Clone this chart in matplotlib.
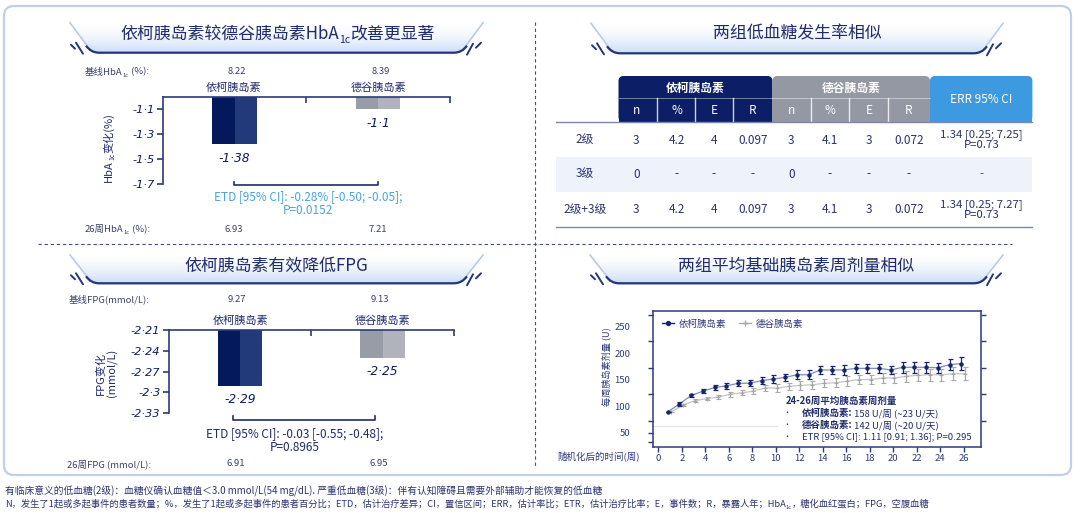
import numpy as np
import matplotlib
matplotlib.use("Agg")
import matplotlib.pyplot as plt
from matplotlib.patches import Rectangle, FancyBboxPatch, Polygon, PathPatch
from matplotlib.path import Path
from matplotlib.lines import Line2D
from matplotlib.transforms import ScaledTranslation

plt.rcParams['font.family'] = ['Noto Sans CJK SC', 'DejaVu Sans']

W, H = 1080, 513
NAVY = '#1f2b6b'
DARK = '#0a1d60'
GREY_TXT = '#3b4168'
ITALIC = dict(family='DejaVu Sans', style='oblique')

# ---------------- data ----------------
groups = ['依柯胰岛素', '德谷胰岛素']
hba1c_base = [8.22, 8.39]
hba1c_change = [-1.38, -1.1]
hba1c_26w = [6.93, 7.21]
hba1c_ticks = [-1.1, -1.3, -1.5, -1.7]

fpg_base = [9.27, 9.13]
fpg_change = [-2.29, -2.25]
fpg_26w = [6.91, 6.95]
fpg_ticks = [-2.21, -2.24, -2.27, -2.3, -2.33]

row_labels = ['2级', '3级', '2级+3级']
sub_cols = ['n', '%', 'E', 'R']
ekl_n = ['3', '0', '3']
ekl_pct = ['4.2', '-', '4.2']
ekl_E = ['4', '-', '4']
ekl_R = ['0.097', '-', '0.097']
deg_n = ['3', '0', '3']
deg_pct = ['4.1', '-', '4.1']
deg_E = ['3', '-', '3']
deg_R = ['0.072', '-', '0.072']
err_ci = ['1.34 [0.25; 7.25]\nP=0.73', '-', '1.34 [0.25; 7.27]\nP=0.73']

weeks = [1, 2, 3, 4, 5, 6, 7, 8, 9, 10, 11, 12, 13,
         14, 15, 16, 17, 18, 19, 20, 21, 22, 23, 24, 25, 26]
ekl_dose = [67, 82, 98, 106, 113, 116, 121, 121, 126, 129, 132, 137, 137,
            146, 146, 146, 149, 149, 149, 146, 151, 151, 151, 150, 156, 158]
ekl_err = [0, 3, 3, 4, 4, 5, 6, 6, 7, 7, 7, 8, 8,
           8, 8, 9, 9, 9, 9, 8, 10, 10, 10, 10, 11, 12]
deg_dose = [67, 80, 88, 92, 95, 100, 103, 106, 112, 112, 115, 117, 118,
            121, 122, 125, 128, 128, 131, 131, 134, 136, 137, 137, 139, 139]
deg_err = [0, 2, 3, 3, 4, 5, 5, 6, 6, 7, 7, 8, 8,
           8, 8, 9, 9, 9, 10, 10, 10, 11, 11, 11, 12, 12]
dose_ticks = [50, 100, 150, 200, 250]
week_ticks = list(range(0, 27, 2))

footnote1 = ('有临床意义的低血糖(2级)：血糖仪确认血糖值＜3.0 mmol/L(54 mg/dL). '
             '严重低血糖(3级)：伴有认知障碍且需要外部辅助才能恢复的低血糖')
footnote2_pre = ('N，发生了1起或多起事件的患者数量；%，发生了1起或多起事件的患者百分比；'
                 'ETD，估计治疗差异；CI，置信区间；ERR，估计率比；ETR，估计治疗比率；'
                 'E，事件数；R，暴露人年；HbA')
footnote2_post = '，糖化血红蛋白；FPG，空腹血糖'


def fig_rect(l, t, r, b):
    return [l / W, 1 - b / H, (r - l) / W, (b - t) / H]


fig = plt.figure(figsize=(W / 100, H / 100), dpi=100)
ov = fig.add_axes([0, 0, 1, 1])
ov.set_xlim(0, W)
ov.set_ylim(H, 0)
ov.set_autoscale_on(False)
ov.axis('off')


def sub_chain(x, y, pre, sub, post, fs, color, weight='normal', ha='left'):
    # text with a subscript in the middle (e.g. HbA1c)
    t1 = ov.text(x, y, pre, fontsize=fs, color=color, ha=ha, va='center', weight=weight)
    t2 = ov.annotate(sub, xy=(1, 0.12), xycoords=t1, ha='left', va='center',
                     fontsize=fs * 0.62, color=color, weight=weight)
    t3 = ov.annotate(post, xy=(1, 0.5), xycoords=(t2, t1), ha='left', va='center',
                     fontsize=fs, color=color, weight=weight)
    return t3


# panel frame
ov.add_patch(FancyBboxPatch((4, 6), 1067, 469, boxstyle='round,pad=0,rounding_size=10',
                            facecolor='white', edgecolor='#bfd0e8', lw=1.6, zorder=0))
ov.plot([534.5, 534.5], [22, 466], ls=(0, (3, 2.5)), color='#3c4f8c', lw=0.8)
ov.plot([38, 1012], [244, 244], ls=(0, (3, 2.5)), color='#3c4f8c', lw=0.8)


def banner(x0, x1, yt, yb):
    pts = [(x0, yt), (x0 + 20, yb - 2), (x0 + 26, yb), (x1 - 26, yb), (x1 - 20, yb - 2), (x1, yt)]
    poly = Polygon(pts, closed=True, facecolor='none', edgecolor='none')
    ov.add_patch(poly)
    n = 64
    grad = np.zeros((n, 1, 4))
    t = np.linspace(0, 1, n) ** 1.6
    base = np.array([0.80, 0.87, 0.97])
    grad[:, 0, :3] = 1 - (1 - base) * t[:, None]
    grad[:, 0, 3] = 1
    im = ov.imshow(grad, extent=(x0, x1, yb, yt), aspect='auto', origin='upper', zorder=1)
    im.set_clip_path(poly)
    ov.plot([x0, x0 + 20], [yt, yb - 3], color='#b9cbe8', lw=1.2, zorder=2)
    ov.plot([x1, x1 - 20], [yt, yb - 3], color='#b9cbe8', lw=1.2, zorder=2)
    verts = [(x0 + 16, yb - 7), (x0 + 21, yb), (x0 + 29, yb), (x1 - 29, yb),
             (x1 - 21, yb), (x1 - 16, yb - 7)]
    codes = [Path.MOVETO, Path.CURVE3, Path.CURVE3, Path.LINETO, Path.CURVE3, Path.CURVE3]
    ov.add_patch(PathPatch(Path(verts, codes), facecolor='none', edgecolor='#22357c', lw=1.6, zorder=3))
    for (xa, ya, xb, yb2) in [(x0 + 1, yb - 8, x0 + 5, yb - 4), (x0 + 6, yb - 10, x0 + 13, yb + 1)]:
        ov.plot([xa, xb], [ya, yb2], color='#22357c', lw=1.4, solid_capstyle='round', zorder=3)
    for (xa, ya, xb, yb2) in [(x1 - 16, yb + 2, x1 - 10, yb - 9), (x1 - 7, yb - 5, x1 - 2, yb - 10)]:
        ov.plot([xa, xb], [ya, yb2], color='#22357c', lw=1.4, solid_capstyle='round', zorder=3)


banner(70, 483, 22.7, 52.7)
banner(591, 1003, 23.3, 53.3)
banner(70, 483, 255, 283.3)
banner(590, 1003, 255, 283.3)

TFS = 12.2
t1 = ov.text(120.5, 33.5, '依柯胰岛素较德谷胰岛素HbA', fontsize=TFS, color=NAVY, ha='left', va='center', zorder=4)
t2 = ov.annotate('1c', xy=(1, 0.12), xycoords=t1, ha='left', va='center', fontsize=TFS * 0.62,
                 color=NAVY, zorder=4)
ov.annotate('改善更显著', xy=(1, 0.5), xycoords=(t2, t1), ha='left', va='center', fontsize=TFS,
            color=NAVY, zorder=4)
ov.text(797, 33.5, '两组低血糖发生率相似', fontsize=TFS, color=NAVY, ha='center', va='center', zorder=4)
ov.text(276, 266, '依柯胰岛素有效降低FPG', fontsize=TFS, color=NAVY, ha='center', va='center', zorder=4)
ov.text(796.5, 266, '两组平均基础胰岛素周剂量相似', fontsize=TFS, color=NAVY, ha='center', va='center', zorder=4)


# ---------------- bar panels ----------------
def fmt_dot(v):
    return f'{v:g}'.replace('.', '·')


def bar_panel(L, T, R, B, values, ticks, ylim, dark, light):
    ax = fig.add_axes(fig_rect(L, T, R, B))
    ax.patch.set_alpha(0)
    top = ylim[1]
    x = np.arange(len(values))
    h = [v - top for v in values]
    bw = 0.31
    ax.bar(x, h, width=bw, bottom=top, color=dark, zorder=2)
    ax.bar(x + bw / 4, h, width=bw / 2, bottom=top, color=light, zorder=2)
    ax.set_xlim(-0.5, 1.5)
    ax.set_ylim(*ylim)
    for s in ['bottom', 'right']:
        ax.spines[s].set_visible(False)
    for s in ['top', 'left']:
        ax.spines[s].set_color('#2b3a7a')
        ax.spines[s].set_linewidth(1.2)
    ax.xaxis.tick_top()
    ax.set_xticks([0.5, 1.5])
    ax.set_xticklabels([])
    ax.tick_params(axis='x', direction='in', length=4, width=1.2, color='#2b3a7a')
    ax.set_yticks(ticks)
    ax.set_yticklabels([fmt_dot(t) for t in ticks], fontsize=8.2, color=DARK, **ITALIC)
    ax.tick_params(axis='y', direction='out', length=4, width=1.2, color='#2b3a7a', pad=2)
    for xi, v in zip(x, values):
        ax.annotate(fmt_dot(v), xy=(xi, v), xytext=(0, -14), textcoords='offset pixels',
                    ha='center', va='center', fontsize=8.8, color=DARK, **ITALIC)
    return ax


dark_cols = ['#04195c', '#979ca7']
light_cols = ['#22397a', '#b0b3bb']

bar_panel(162.7, 97.3, 450, 184, hba1c_change, hba1c_ticks, (-1.7, -1.006), dark_cols, light_cols)
bar_panel(168.7, 330, 453.9, 413.3, fpg_change, fpg_ticks, (-2.33, -2.21), dark_cols, light_cols)

# top-left texts
cx_tl = [233.8, 378]
sub_chain(85, 72, '基线HbA', '1c', ' (%):', 6.8, GREY_TXT)
sub_chain(85, 229.3, '26周HbA', '1c', ' (%):', 6.8, GREY_TXT)
for cx, b, w26, g in zip(cx_tl, hba1c_base, hba1c_26w, groups):
    ov.text(cx + 3, 72, f'{b:.2f}', fontsize=6.8, color=GREY_TXT, ha='center', va='center')
    ov.text(cx, 87.3, g, fontsize=8, color=NAVY, ha='center', va='center')
    ov.text(cx, 229.3, f'{w26:.2f}', fontsize=6.8, color=GREY_TXT, ha='center', va='center')
ov.plot([cx_tl[0], cx_tl[0], cx_tl[1], cx_tl[1]], [181.5, 185.3, 185.3, 181.5], color=NAVY, lw=1.2)
ov.text(308, 196.7, 'ETD [95% CI]: -0.28% [-0.50; -0.05];', fontsize=8.5, color='#4aa2e2',
        ha='center', va='center')
ov.text(308, 210.7, 'P=0.0152', fontsize=8.5, color='#4aa2e2', ha='center', va='center')
ya = ov.text(108.5, 182, 'HbA', fontsize=8, color=NAVY, rotation=90, ha='center', va='bottom')
yb_ = ov.annotate('1c', xy=(0.85, 1), xycoords=ya, fontsize=8 * 0.62, color=NAVY, rotation=90,
                  ha='center', va='bottom')
ov.annotate('变化(%)', xy=(0.5, 1), xycoords=(ya, yb_), fontsize=8, color=NAVY, rotation=90,
            ha='center', va='bottom')

# bottom-left texts
cx_bl = [240.2, 382.4]
ov.text(69, 299.3, '基线FPG(mmol/L):', fontsize=6.8, color=GREY_TXT, ha='left', va='center')
ov.text(67, 464, '26周FPG (mmol/L):', fontsize=6.8, color=GREY_TXT, ha='left', va='center')
for cx, b, w26, g in zip(cx_bl, fpg_base, fpg_26w, groups):
    ov.text(cx - 3, 299.3, f'{b:.2f}', fontsize=6.8, color=GREY_TXT, ha='center', va='center')
    ov.text(cx, 320.7, g, fontsize=8, color=NAVY, ha='center', va='center')
    ov.text(cx - 4, 464, f'{w26:.2f}', fontsize=6.8, color=GREY_TXT, ha='center', va='center')
ov.plot([cx_bl[0] - 7, cx_bl[0] - 7, cx_bl[1] - 7, cx_bl[1] - 7], [416, 420, 420, 416], color=NAVY, lw=1.2)
ov.text(294.4, 433.3, 'ETD [95% CI]: -0.03 [-0.55; -0.48];', fontsize=8.5, color=NAVY,
        ha='center', va='center')
ov.text(294.4, 447.3, 'P=0.8965', fontsize=8.5, color=NAVY, ha='center', va='center')
ov.text(107, 373, 'FPG变化\n(mmol/L)', fontsize=8, color=NAVY, rotation=90, ha='center', va='center',
        multialignment='center', linespacing=1.1)

# ---------------- table ----------------
col_x = [584.8, 636.4, 676.7, 713.9, 752.8, 791.4, 830, 868.9, 909, 981.5]
row_y = [140, 174, 209.3]
tab_l, tab_r = 555.5, 1032.4
blocks = [(618.5, 772.4, '#0c1f66', '依柯胰岛素'), (772.4, 930, '#9398a2', '德谷胰岛素'),
          (930, 1032.4, '#3d9ae0', None)]
for (bx0, bx1, col, lab) in blocks:
    ov.add_patch(FancyBboxPatch((bx0, 76), bx1 - bx0, 45.7, boxstyle='round,pad=0,rounding_size=5',
                                facecolor=col, edgecolor='none', zorder=2))
    ov.add_patch(Rectangle((bx0, 88), bx1 - bx0, 33.7, facecolor=col, edgecolor='none', zorder=2))
    if lab:
        ov.text((bx0 + bx1) / 2, 88.3, lab, fontsize=8.5, color='white', weight='bold',
                ha='center', va='center', zorder=3)
        ov.plot([bx0, bx1], [98.3, 98.3], color='white', lw=0.6, alpha=0.5, zorder=3)
ov.text(981.5, 99.3, 'ERR 95% CI', fontsize=8.5, color='white', ha='center', va='center', zorder=3)
for dx in [657.1, 695, 732.8, 810.7, 849.2, 887.8]:
    ov.plot([dx, dx], [98.3, 121.7], color='white', lw=1, alpha=0.8, zorder=3)
for cx, lab in zip(col_x[1:9], sub_cols * 2):
    ov.text(cx, 110.7, lab, fontsize=8.5, color='white', ha='center', va='center', zorder=3)
ov.add_patch(Rectangle((tab_l, 156.7), tab_r - tab_l, 35, facecolor='#edf2fb', edgecolor='none', zorder=1))
ov.plot([tab_l, tab_r], [121.9, 121.9], color='#7d87b0', lw=1, zorder=3)
ov.plot([tab_l, tab_r], [226.7, 226.7], color='#7d87b0', lw=1, zorder=3)
table_cols = [row_labels, ekl_n, ekl_pct, ekl_E, ekl_R, deg_n, deg_pct, deg_E, deg_R]
for cx, colvals in zip(col_x, table_cols):
    for ry, val in zip(row_y, colvals):
        ov.text(cx, ry, val, fontsize=8.5, color='#2a3270', ha='center', va='center', zorder=3)
for ry, val in zip(row_y, err_ci):
    ov.text(col_x[-1], ry, val, fontsize=8.2, color='#2a3270', ha='center', va='center',
            linespacing=1.0, zorder=3)

# ---------------- dose line chart ----------------
ax3 = fig.add_axes(fig_rect(653.3, 311, 980.8, 446.7))
ax3.patch.set_alpha(0)
ekl_x = [w - 0.2 for w in weeks]
deg_x = [w + 0.1 for w in weeks]
ax3.axhline(40, xmin=0, xmax=0.377, color='#e3e3e3', lw=0.8, zorder=1)
ax3.plot(deg_x, deg_dose, color='#c6c6c6', lw=0.9, zorder=2)
ax3.errorbar(deg_x, deg_dose, yerr=deg_err, fmt='+', ms=3, mew=0.8, color='#a5a5a5',
             ecolor='#aaaaaa', elinewidth=0.9, capsize=1.8, capthick=0.9, zorder=3)
ax3.plot(ekl_x, ekl_dose, color='#7c8cc2', lw=0.9, zorder=4)
ax3.errorbar(ekl_x, ekl_dose, yerr=ekl_err, fmt='o', ms=2.2, color='#16266a',
             ecolor='#16266a', elinewidth=0.9, capsize=1.8, capthick=0.9, zorder=5)
ax3.set_xlim(-0.43, 27.45)
ax3.set_ylim(1.5, 257)
ax3.set_xticks(week_ticks)
ax3.set_xticklabels([str(w) for w in week_ticks], fontsize=6.8, color='#2b3a7a')
ax3.set_yticks(dose_ticks)
ax3.set_yticklabels([str(v) for v in dose_ticks], fontsize=6.8, color='#2b3a7a')
ax3.set_yticks([11, 28], minor=True)
ax3.tick_params(axis='both', which='major', direction='out', length=3.5, width=1, color='#2b3a7a', pad=2)
ax3.tick_params(axis='y', which='major', right=True, labelright=False, pad=13)
ax3.tick_params(axis='y', which='minor', direction='out', length=3.5, width=1, color='#2b3a7a')
shift = ScaledTranslation(0, -0.12, fig.dpi_scale_trans)
for lab in ax3.get_yticklabels():
    lab.set_transform(lab.get_transform() + shift)
for s in ax3.spines.values():
    s.set_color('#2b3a7a')
    s.set_linewidth(1.1)

handles = [Line2D([], [], color='#16266a', marker='o', ms=2.8, lw=1),
           Line2D([], [], color='#aaaaaa', marker='+', ms=4, lw=1)]
ax3.legend(handles, groups, loc='upper left', bbox_to_anchor=(0.0, 1.0), ncol=2, frameon=False,
           fontsize=6.8, handlelength=1.3, handletextpad=0.5, columnspacing=1.3,
           borderaxespad=0.5, labelcolor='#2b3a7a')

tr = ax3.transAxes
ax3.text(0.404, 0.337, '24-26周平均胰岛素周剂量', transform=tr, fontsize=6.8, weight='bold',
         color=NAVY, ha='left', va='center')
bullet_y = [0.246, 0.160, 0.074]
bullet_bold = ['依柯胰岛素:', '德谷胰岛素:', None]
bullet_rest = [' 158 U/周 (~23 U/天)', ' 142 U/周 (~20 U/天)', 'ETR [95% CI]: 1.11 [0.91; 1.36]; P=0.295']
for by, bb, br in zip(bullet_y, bullet_bold, bullet_rest):
    ax3.text(0.407, by, '•', transform=tr, fontsize=5, color=NAVY, ha='center', va='center')
    if bb:
        tb = ax3.text(0.453, by, bb, transform=tr, fontsize=6.8, weight='bold', color=NAVY,
                      ha='left', va='center')
        ax3.annotate(br, xy=(1, 0.5), xycoords=tb, fontsize=6.8, color=NAVY, ha='left', va='center')
    else:
        ax3.text(0.453, by, br, transform=tr, fontsize=6.8, color=NAVY, ha='left', va='center')

ov.text(606.7, 366.7, '每周胰岛素剂量 (U)', fontsize=6.6, color='#2b3a7a', rotation=90,
        ha='center', va='center')
ov.text(640, 457, '随机化后的时间(周)', fontsize=6.8, color='#2b3a7a', ha='right', va='center')

# ---------------- footnotes ----------------
ov.text(5, 491, footnote1, fontsize=7.0, color='#2b3470', ha='left', va='center')
sub_chain(5, 504, footnote2_pre, '1c', footnote2_post, 6.7, '#2b3470')

fig.savefig('out.png', dpi=100)
